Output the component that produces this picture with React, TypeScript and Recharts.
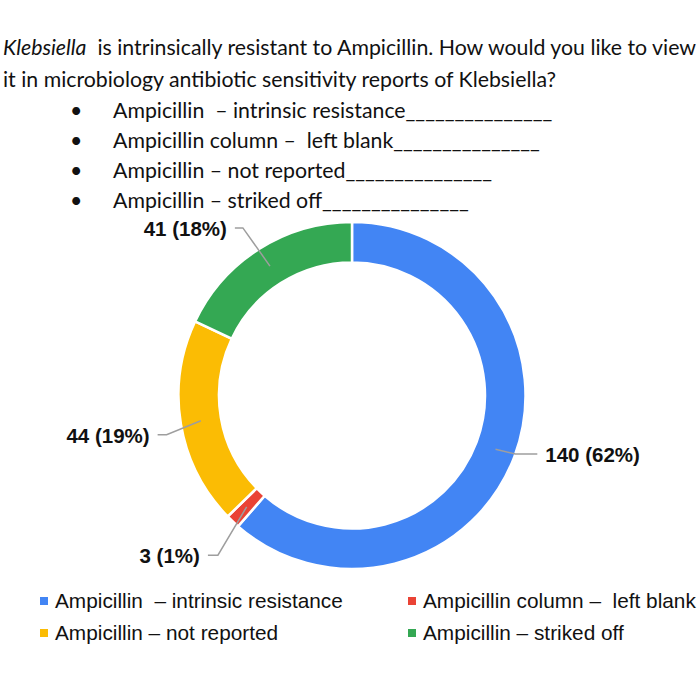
import React from "react";
import { PieChart, Pie, Cell, Legend } from "recharts";

const categories = [
  "Ampicillin  – intrinsic resistance",
  "Ampicillin column –  left blank",
  "Ampicillin – not reported",
  "Ampicillin – striked off",
];
const counts = [140, 3, 44, 41];
const percentLabels = ["62%", "1%", "19%", "18%"];
const colors = ["#4285F4", "#EA4335", "#FBBC04", "#34A853"];

const questionLine1 = " is intrinsically resistant to Ampicillin. How would you like to view";
const questionLine2 = "it in microbiology antibiotic sensitivity reports of Klebsiella?";
const bulletItems = [
  "Ampicillin  – intrinsic resistance_______________",
  "Ampicillin column –  left blank_______________",
  "Ampicillin – not reported_______________",
  "Ampicillin – striked off_______________",
];

// leader-line layout: extra radius beyond the outer ring for the bend point,
// angle nudge (deg, screen) and horizontal segment length
const leaderExtra = [0, 35, 16, 26.5];
const leaderAngleNudge = [-0.8, -3.4, -2.5, -0.7];
const leaderTail = [22, 10, 9, 8];

const data = categories.map((name, i) => ({
  name,
  value: counts[i],
  pct: percentLabels[i],
}));

const RAD = Math.PI / 180;

const renderLabel = (props: any) => {
  const { cx, cy, midAngle, innerRadius, outerRadius, index, payload } = props;
  const a0 = -midAngle * RAD;
  const rMid = (innerRadius + outerRadius) / 2;
  const sx = cx + rMid * Math.cos(a0);
  const sy = cy + rMid * Math.sin(a0);
  const a1 = (-midAngle + leaderAngleNudge[index]) * RAD;
  const rb = outerRadius + leaderExtra[index];
  const bx = cx + rb * Math.cos(a1);
  const by = cy + rb * Math.sin(a1);
  const right = Math.cos(a0) >= 0;
  const ex = bx + (right ? leaderTail[index] : -leaderTail[index]);
  const tx = ex + (right ? 8 : -8);
  return (
    <g>
      <polyline
        points={`${sx},${sy} ${bx},${by} ${ex},${by}`}
        fill="none"
        stroke="#9e9e9e"
        strokeWidth={1.5}
      />
      <text
        x={tx}
        y={by}
        dy="0.38em"
        textAnchor={right ? "start" : "end"}
        fontFamily="'Liberation Sans', Arial, sans-serif"
        fontWeight="bold"
        fontSize={20.5}
        fill="#111"
      >
        {`${payload.value} (${payload.pct})`}
      </text>
    </g>
  );
};

const renderLegend = () => (
  <div
    style={{
      display: "grid",
      gridTemplateColumns: "368px 300px",
      rowGap: 8,
      fontFamily: "'Liberation Sans', Arial, sans-serif",
      fontSize: 20.8,
      color: "#111",
      paddingLeft: 40,
    }}
  >
    {[0, 1, 2, 3].map((i) => (
      <div key={i} style={{ display: "flex", alignItems: "center", height: 24, whiteSpace: "pre" }}>
        <span
          style={{
            display: "inline-block",
            width: 8,
            height: 8,
            background: colors[i],
            marginRight: 7,
          }}
        />
        {categories[i]}
      </div>
    ))}
  </div>
);

const titleFont = "Lato, 'Open Sans', sans-serif";

export default function App() {
  return (
    <div
      style={{
        position: "absolute",
        left: 0,
        top: 0,
        width: 700,
        height: 680,
        background: "#fff",
        overflow: "hidden",
      }}
    >
      <div
        style={{
          position: "absolute",
          left: 3,
          top: 31,
          fontFamily: titleFont,
          fontSize: 21.3,
          color: "#111",
          lineHeight: "32px",
          whiteSpace: "pre",
        }}
      >
        <div>
          <i>Klebsiella</i>
          {" " + questionLine1}
        </div>
        <div>{questionLine2}</div>
      </div>
      <div
        style={{
          position: "absolute",
          left: 70,
          top: 95,
          fontFamily: titleFont,
          fontSize: 21.3,
          color: "#111",
          lineHeight: "30px",
          whiteSpace: "pre",
        }}
      >
        {bulletItems.map((t, i) => (
          <div key={i} style={{ display: "flex" }}>
            <span style={{ width: 43 }}>•</span>
            <span>{t}</span>
          </div>
        ))}
      </div>
      <div style={{ position: "absolute", left: 0, top: 0 }}>
        <PieChart width={700} height={680} margin={{ top: 0, right: 0, bottom: 0, left: 0 }}>
          <Pie
            data={data}
            dataKey="value"
            nameKey="name"
            cx={352}
            cy={395.5}
            innerRadius={133}
            outerRadius={173.5}
            startAngle={90}
            endAngle={-270}
            stroke="#fff"
            strokeWidth={2.5}
            label={renderLabel}
            labelLine={false}
            isAnimationActive={false}
          >
            {data.map((d, i) => (
              <Cell key={d.name} fill={colors[i]} />
            ))}
          </Pie>
          <Legend
            content={renderLegend}
            verticalAlign="bottom"
            wrapperStyle={{ left: 0, top: 589, width: 700 }}
          />
        </PieChart>
      </div>
    </div>
  );
}
